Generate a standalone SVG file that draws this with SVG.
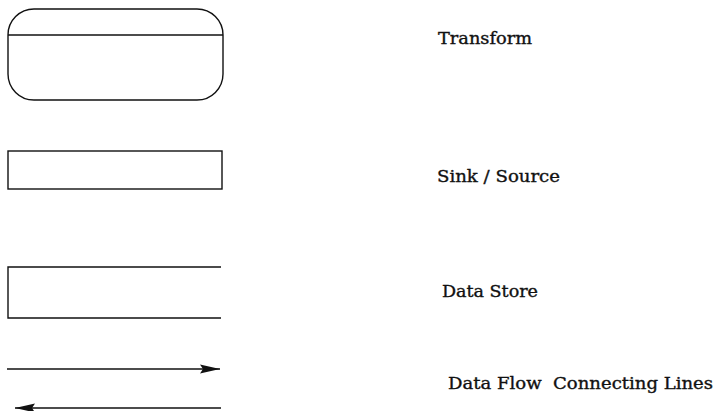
<svg xmlns="http://www.w3.org/2000/svg" width="717" height="411" viewBox="0 0 717 411">
  <style>
    .shape { fill: none; stroke: #111; stroke-width: 1.4; }
    .lbl { font-family: "DejaVu Serif", "Liberation Serif", serif; font-size: 16px; fill: #111; stroke: #111; stroke-width: 0.35; white-space: pre; }
    .flow { fill: none; stroke: #111; stroke-width: 1.4; }
  </style>
  <defs>
    <marker id="arrow" viewBox="0 0 20 10" refX="20" refY="5" markerUnits="userSpaceOnUse" markerWidth="20" markerHeight="10" orient="auto-start-reverse">
      <path d="M0,0.5 L20,5 L0,9.5 L3,5 Z" fill="#111"/>
    </marker>
  </defs>
  <rect width="717" height="411" fill="#fff"/>

  <g id="transform">
    <rect class="shape" x="8" y="9" width="215" height="91" rx="26" ry="26"/>
    <line class="shape" x1="8" y1="35" x2="223" y2="35"/>
    <text class="lbl" x="438" y="44" textLength="94" lengthAdjust="spacingAndGlyphs">Transform</text>
  </g>

  <g id="sink-source">
    <rect class="shape" x="8" y="151" width="214" height="38"/>
    <text class="lbl" x="437" y="182" textLength="123" lengthAdjust="spacingAndGlyphs">Sink / Source</text>
  </g>

  <g id="data-store">
    <path class="shape" d="M221,267 L8,267 L8,318 L221,318"/>
    <text class="lbl" x="442" y="297" textLength="96" lengthAdjust="spacingAndGlyphs">Data Store</text>
  </g>

  <g id="connectors">
    <line class="flow" x1="7" y1="369" x2="220" y2="369" marker-end="url(#arrow)"/>
    <line class="flow" x1="221" y1="408" x2="15" y2="408" marker-end="url(#arrow)"/>
  </g>

  <g id="data-flow-label">
    <text class="lbl" x="448" y="389" textLength="265" lengthAdjust="spacingAndGlyphs">Data Flow  Connecting Lines</text>
  </g>
</svg>
